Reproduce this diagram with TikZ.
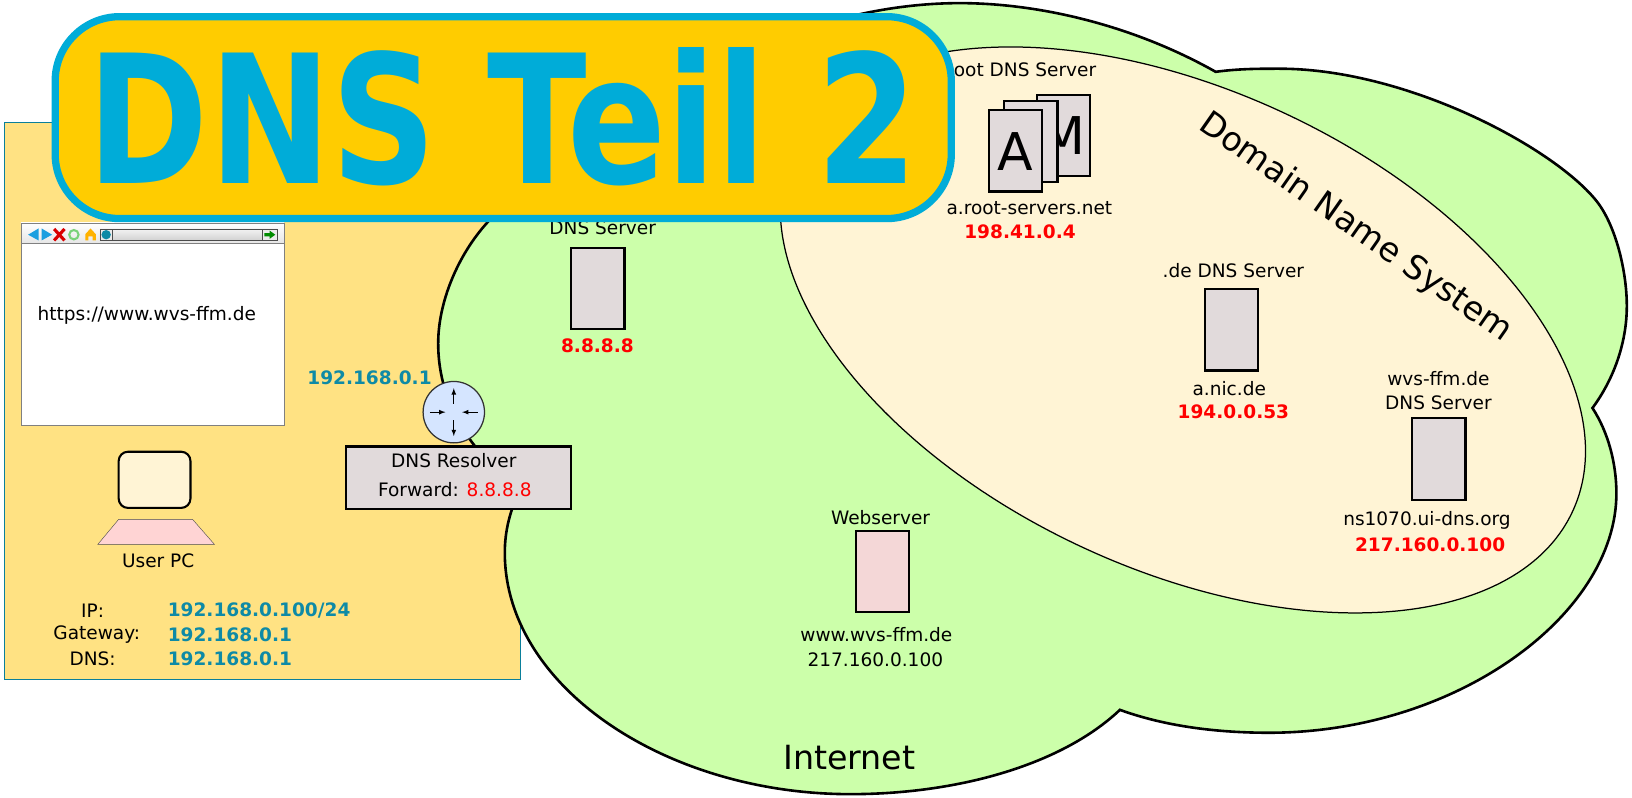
\documentclass[tikz,border=0pt]{standalone}
\usepackage{fontspec}
\setmainfont{DejaVu Sans}
\pgfdeclarelayer{foreground}
\pgfsetlayers{main,foreground}
\definecolor{cloudgreen}{HTML}{CCFFAA}
\definecolor{panelyellow}{HTML}{FFE283}
\definecolor{panelteal}{HTML}{0A7F9B}
\definecolor{dnscream}{HTML}{FFF4D5}
\definecolor{servergray}{HTML}{E1DADB}
\definecolor{serverpink}{HTML}{F4D7D7}
\definecolor{routerblue}{HTML}{D5E5FF}
\definecolor{ipteal}{HTML}{0E8AA6}
\definecolor{iconblue}{HTML}{1C9FE0}
\definecolor{titlegold}{HTML}{FFCC00}
\definecolor{titleblue}{HTML}{00ACD8}
\tikzset{
  lbl/.style={font=\fontsize{17.8}{20}\selectfont, inner sep=0pt, align=center},
  redip/.style={lbl, text=red, font=\fontsize{17.8}{20}\selectfont\bfseries},
  tealip/.style={lbl, text=ipteal, font=\fontsize{17.8}{20}\selectfont\bfseries},
  serverbox/.style={draw=black, line width=2pt, fill=servergray, inner sep=0pt},
  routerarrow/.style={-latex, line width=1.1pt}
}
\newcommand{\serverrect}[5]{
  \node [serverbox, fill=#5, minimum width=#3pt, minimum height=#4pt, anchor=north west] (#1) at #2 {};
}
\begin{document}
\begin{tikzpicture}[x=1pt,y=-1pt]
  \useasboundingbox (0,0) rectangle (1568,766);
  % left panel
  \draw [draw=panelteal, line width=1.2pt, fill=panelyellow] (4,118) rectangle (500,653);
  % internet cloud
  \draw [line width=2.5pt, fill=cloudgreen]
    (500,470) .. controls (445,430) and (421,380) .. (421,330)
    .. controls (421,290) and (440,245) .. (468,214)
    .. controls (510,165) and (570,130) .. (640,110)
    .. controls (690,50) and (810,3) .. (922,3)
    .. controls (1000,3) and (1090,25) .. (1168,69)
    .. controls (1190,66) and (1210,66) .. (1229,66)
    .. controls (1350,66) and (1490,140) .. (1533,192)
    .. controls (1552,215) and (1563,260) .. (1563,294)
    .. controls (1563,330) and (1550,365) .. (1530,392)
    .. controls (1545,415) and (1553,445) .. (1553,474)
    .. controls (1553,590) and (1400,704) .. (1219,704)
    .. controls (1170,704) and (1120,698) .. (1076,682)
    .. controls (1020,735) and (920,763) .. (817,763)
    .. controls (640,763) and (485,660) .. (485,531)
    .. controls (485,510) and (490,490) .. (500,470) -- cycle;
  % domain name system
  \draw [line width=1.2pt, fill=dnscream, rotate around={-25:(1136.5,317)}] (1136.5,317) ellipse (413pt and 230pt);
  \node [font=\fontsize{32}{36}\selectfont, rotate=-35, inner sep=0pt] (dnsname) at (1302,219) {Domain Name System};
  \node [font=\fontsize{32}{36}\selectfont, inner sep=0pt] (internet) at (816,728) {Internet};
  % browser window
  \draw [draw=gray, fill=white] (20,214) rectangle (273,409);
  \draw [draw=gray, top color=white, bottom color=black!10] (20,214) rectangle (273,234);
  \fill [iconblue] (27,225.5) -- (37,219.5) -- (37,231) -- cycle;
  \fill [iconblue] (50,225.5) -- (40,219.5) -- (40,231) -- cycle;
  \draw [red!85!black, line width=3pt] (52,220) -- (62,231) (62,220) -- (52,231);
  \draw [green!50!gray!70, line width=2pt] (71,225.5) circle (4.5pt);
  \fill [orange!60!yellow] (82,231) -- (82,225) -- (87,219.5) -- (92,225) -- (92,231) -- (89,231) -- (89,227) -- (85,227) -- (85,231) -- cycle;
  \draw [black!70, top color=black!5, bottom color=black!18] (96,220) rectangle (266,231);
  \draw [black!70, fill=black!8] (96,220) rectangle (108,231);
  \fill [ipteal] (102,225.5) circle (4.5pt);
  \draw [black!70, fill=black!8] (252,220) rectangle (266,231);
  \fill [green!55!black] (254,224) -- (259,224) -- (259,221.5) -- (264.5,225.5) -- (259,229.5) -- (259,227) -- (254,227) -- cycle;
  \node [lbl] (url) at (141,303) {https://www.wvs-ffm.de};
  % user pc
  \draw [line width=2pt, fill=dnscream, rounded corners=9pt] (114,434) rectangle (183,488);
  \draw [draw=black!70, fill=red!17] (114,499) -- (185,499) -- (206,523) -- (94,523) -- cycle;
  \node [lbl] (userpc) at (152,539) {User PC};
  \node [lbl] (iplbl) at (89,587) {IP:};
  \node [lbl] (gwlbl) at (93,610) {Gateway:};
  \node [lbl] (dnslbl) at (89,633) {DNS:};
  \node [tealip, anchor=west] (ipval) at (161,587) {192.168.0.100/24};
  \node [tealip, anchor=west] (gwval) at (161,610) {192.168.0.1};
  \node [tealip, anchor=west] (dnsval) at (161,633) {192.168.0.1};
  % router and resolver
  \node [tealip] (routerip) at (355,363) {192.168.0.1};
  \node [draw=black!80, line width=1.2pt, circle, fill=routerblue, minimum size=59pt, inner sep=0pt] (router) at (436,396) {};
  \foreach \dy in {-1,1}
    \draw [routerarrow] ([shift={(0,8*\dy)}]router.center) -- ([shift={(0,23*\dy)}]router.center);
  \foreach \dx in {-1,1}
    \draw [routerarrow] ([shift={(23*\dx,0)}]router.center) -- ([shift={(8*\dx,0)}]router.center);
  \node [serverbox, minimum width=217pt, minimum height=60pt, anchor=north west] (resolver) at (331,428) {};
  \node [lbl] (resolvername) at (436,443) {DNS Resolver};
  \node [lbl] (resolverfwd) at (437,470) {Forward: \textcolor{red}{8.8.8.8}};
  % dns servers
  \node [lbl] (googlename) at (579,219) {DNS Server};
  \serverrect{google}{(548,237)}{51}{78}{servergray}
  \node [redip] (googleip) at (574,332) {8.8.8.8};
  \node [lbl] (rootname) at (979,67) {Root DNS Server};
  \serverrect{rootm}{(995,90)}{51}{78}{servergray}
  \node [font=\fontsize{50}{50}\selectfont, inner sep=0pt] (rootmlbl) at (1021,130) {M};
  \serverrect{rootb}{(964,96)}{51}{78}{servergray}
  \serverrect{roota}{(949,105)}{51}{78}{servergray}
  \node [font=\fontsize{50}{50}\selectfont, inner sep=0pt] (rootalbl) at (975,146) {A};
  \node [lbl] (rooturl) at (989,200) {a.root-servers.net};
  \node [redip] (rootip) at (980,223) {198.41.0.4};
  \node [lbl] (dename) at (1185,260) {.de DNS Server};
  \serverrect{de}{(1157,277)}{51}{78}{servergray}
  \node [lbl] (deurl) at (1181,373) {a.nic.de};
  \node [redip] (deip) at (1185,396) {194.0.0.53};
  \node [lbl] (wvsname) at (1382,375) {wvs-ffm.de\\[3pt]DNS Server};
  \serverrect{wvs}{(1356,401)}{51}{78}{servergray}
  \node [lbl] (wvsurl) at (1371,500) {ns1070.ui-dns.org};
  \node [redip] (wvsip) at (1374,523) {217.160.0.100};
  % webserver
  \node [lbl] (webname) at (846,497) {Webserver};
  \serverrect{web}{(821,509)}{51}{78}{serverpink}
  \node [lbl] (weburl) at (842,610) {www.wvs-ffm.de};
  \node [lbl] (webip) at (841,634) {217.160.0.100};
  % title
  \begin{pgfonlayer}{foreground}
    \draw [draw=titleblue, fill=titlegold, line width=7pt, rounded corners=62pt] (53,16) rectangle (914,210);
    \node [text=titleblue, font=\fontsize{172}{172}\selectfont\bfseries, inner sep=0pt, anchor=base, xscale=.815] (title) at (483.5,176) {DNS Teil 2};
  \end{pgfonlayer}
\end{tikzpicture}
\end{document}
